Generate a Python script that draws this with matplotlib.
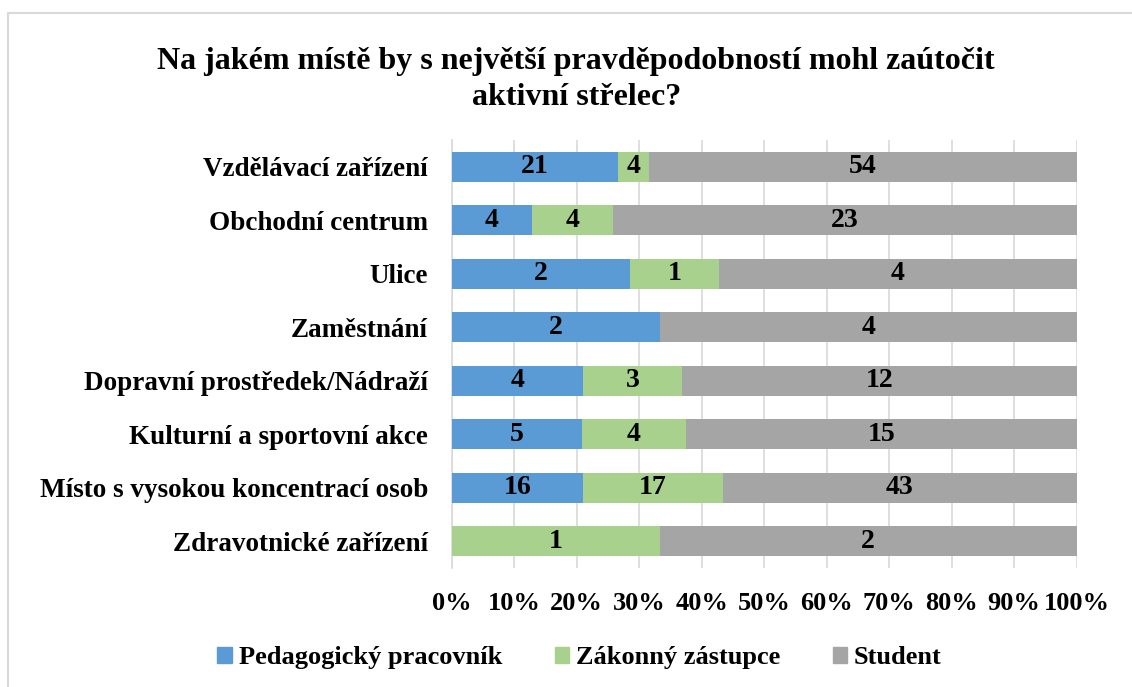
import matplotlib.pyplot as plt
import numpy as np
from matplotlib.lines import Line2D

# Data from the chart (counts per answer)
mista = [
    "Vzdělávací zařízení",
    "Obchodní centrum",
    "Ulice",
    "Zaměstnání",
    "Dopravní prostředek/Nádraží",
    "Kulturní a sportovní akce",
    "Místo s vysokou koncentrací osob",
    "Zdravotnické zařízení",
]
pedagog = [21, 4, 2, 2, 4, 5, 16, 0]
zastupce = [4, 4, 1, 0, 3, 4, 17, 1]
student = [54, 23, 4, 4, 12, 15, 43, 2]
skupiny = ["Pedagogický pracovník", "Zákonný zástupce", "Student"]
barvy = ["#5B9BD5", "#A9D18E", "#A5A5A5"]
tick_labels = ["0%", "10%", "20%", "30%", "40%", "50%", "60%", "70%", "80%", "90%", "100%"]

plt.rcParams["font.family"] = ["Liberation Serif", "DejaVu Serif"]
plt.rcParams["font.weight"] = "bold"

fig = plt.figure(figsize=(11.32, 6.87), dpi=100)
ax = fig.add_axes([0.399, 0.173, 0.552, 0.623])

hodnoty = np.array([pedagog, zastupce, student], dtype=float)
podily = hodnoty / hodnoty.sum(axis=0)
y = np.arange(len(mista))

levo = np.zeros(len(mista))
for i in range(3):
    ax.barh(y, podily[i], left=levo, height=0.56, color=barvy[i],
            label=skupiny[i], zorder=3)
    for j in range(len(mista)):
        if hodnoty[i, j] > 0:
            ax.text(levo[j] + podily[i, j] / 2, y[j], f"{int(hodnoty[i, j])}",
                    ha="center", va="center", fontsize=20,
                    fontweight="bold", zorder=4)
    levo += podily[i]

ax.set_ylim(len(mista) - 0.5, -0.5)
ax.set_xlim(0, 1)
ax.set_yticks(y)
ax.set_yticklabels(mista, fontsize=19.5, fontweight="bold")
ax.set_xticks(np.linspace(0, 1, 11))
ax.set_xticklabels(tick_labels, fontsize=19, fontweight="bold")
ax.tick_params(axis="both", length=0)
ax.tick_params(axis="x", pad=17)
ax.tick_params(axis="y", pad=17)
ax.grid(axis="x", color="#D9D9D9", linewidth=1.2, zorder=0)
for s in ["top", "right", "bottom"]:
    ax.spines[s].set_visible(False)
ax.spines["left"].set_color("#D9D9D9")
ax.spines["left"].set_linewidth(1.2)

fig.text(0.509, 0.884, "Na jakém místě by s největší pravděpodobností mohl zaútočit\naktivní střelec?",
         ha="center", va="center", fontsize=23, fontweight="bold",
         linespacing=1.3)

handles = [plt.Rectangle((0, 0), 1, 1, color=c) for c in barvy]
fig.legend(handles, skupiny, loc="center", bbox_to_anchor=(0.512, 0.043),
           ncol=3, frameon=False, fontsize=19, handlelength=0.55,
           handleheight=0.55, handletextpad=0.25, columnspacing=2.0)

# light border of the chart area (top and left only are visible)
fig.add_artist(Line2D([8 / 1132, 1], [1 - 13 / 687, 1 - 13 / 687],
                      transform=fig.transFigure, color="#D9D9D9", linewidth=1.5))
fig.add_artist(Line2D([8 / 1132, 8 / 1132], [0, 1 - 13 / 687],
                      transform=fig.transFigure, color="#D9D9D9", linewidth=1.5))

fig.savefig("out.png", dpi=100)
